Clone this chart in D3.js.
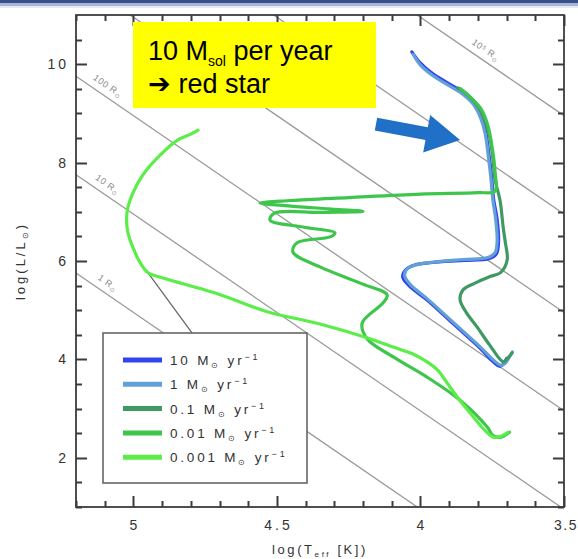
<!DOCTYPE html>
<html><head><meta charset="utf-8">
<script src="https://cdn.jsdelivr.net/npm/d3@7"></script>
<style>body{margin:0;background:#fff}svg{display:block}</style>
</head><body>
<svg id="chart" width="578" height="559"></svg>
<script>
// Accretion rates (Msun/yr) and their colours
const rates = ["10", "1", "0.1", "0.01", "0.001"];
const rateColors = ["#3344ee", "#62a0d8", "#3f9a62", "#3ec64c", "#5cee48"];

// Evolutionary tracks: [log Teff, log L/Lsun]
const track10 = [[3.70,4.02],[3.712,3.9],[3.725,3.86],[3.80,4.27],[3.90,4.8],[3.98,5.22],[4.04,5.5],[4.062,5.68],[4.05,5.83],[4.02,5.92],[3.96,5.97],[3.85,6.01],[3.76,6.05],[3.735,6.15],[3.728,6.4],[3.733,6.85],[3.745,7.25],[3.752,7.7],[3.76,8.1],[3.772,8.6],[3.785,8.9],[3.81,9.18],[3.85,9.42],[3.90,9.6],[3.96,9.82],[4.0,10.02],[4.03,10.25]];
const track1 = [[3.68,4.15],[3.69,4.05],[3.705,3.92],[3.72,3.88],[3.80,4.3],[3.90,4.83],[3.98,5.25],[4.035,5.52],[4.055,5.7],[4.045,5.85],[4.01,5.93],[3.95,5.98],[3.85,6.03],[3.765,6.07],[3.74,6.17],[3.733,6.4],[3.738,6.85],[3.748,7.25],[3.755,7.7],[3.763,8.1],[3.775,8.6],[3.79,8.9],[3.815,9.18],[3.855,9.4],[3.905,9.58],[3.96,9.78],[4.0,9.98],[4.025,10.2]];
const track01 = [[3.681,4.13],[3.70,4.0],[3.712,3.95],[3.76,4.3],[3.803,4.66],[3.84,4.95],[3.862,5.21],[3.852,5.41],[3.81,5.55],[3.76,5.68],[3.72,5.77],[3.698,6.02],[3.705,6.4],[3.712,6.69],[3.723,7.24],[3.74,7.65],[3.748,8.1],[3.758,8.5],[3.775,8.85],[3.80,9.15],[3.84,9.4],[3.87,9.52]];
const track001 = [[3.69,2.52],[3.72,2.42],[3.747,2.45],[3.768,2.63],[3.862,3.17],[3.977,3.64],[4.095,4.05],[4.186,4.42],[4.203,4.74],[4.13,5.15],[4.116,5.31],[4.21,5.55],[4.35,5.88],[4.444,6.18],[4.43,6.37],[4.315,6.49],[4.298,6.57],[4.409,6.69],[4.524,6.83],[4.51,6.97],[4.35,6.99],[4.20,7.01],[4.32,7.06],[4.46,7.12],[4.559,7.18],[4.45,7.23],[4.25,7.29],[4.0,7.36],[3.80,7.39],[3.74,7.42],[3.74,7.8],[3.75,8.3],[3.765,8.75],[3.79,9.1],[3.83,9.35],[3.86,9.5]];
const track0001 = [[3.695,2.52],[3.72,2.44],[3.747,2.42],[3.79,2.65],[3.827,2.91],[3.87,3.22],[3.907,3.52],[3.94,3.78],[3.977,3.95],[4.03,4.12],[4.095,4.25],[4.186,4.44],[4.35,4.72],[4.534,4.97],[4.70,5.32],[4.90,5.66],[4.949,5.76],[4.975,5.95],[5.0,6.25],[5.02,6.6],[5.022,7.0],[5.005,7.34],[4.967,7.75],[4.907,8.15],[4.845,8.46],[4.80,8.58],[4.775,8.66]];
const tracks = [track10, track1, track01, track001, track0001];

// Zero-age main sequence segment
const zams = [[4.949,5.76],[4.796,4.54],[4.70,3.73]];

// Constant-radius lines (Rsun) and their labels
const radii = [1, 10, 100, 1e3, 1e4, 1e5];
const radiusLabels = ["1", "10", "100", "10³", "10⁴", "10⁵"];

// Axis ticks
const xTicks = [5, 4.5, 4, 3.5];
const yTicks = [2, 4, 6, 8, 10];
const xMinor = [5.2, 5.1, 4.9, 4.8, 4.7, 4.6, 4.4, 4.3, 4.2, 4.1, 3.9, 3.8, 3.7, 3.6];
const yMinor = [1, 1.5, 2.5, 3, 3.5, 4.5, 5, 5.5, 6.5, 7, 7.5, 8.5, 9, 9.5, 10.5];

// Annotation arrow tail / head in data space
const arrowFrom = [4.155, 8.78];
const arrowTo = [3.862, 8.46];

const svg = d3.select("#chart");
const W = 578, H = 559;
const L = 76, R = 564, T = 15, B = 507;
const FONT = "'Liberation Sans', Arial, Helvetica, sans-serif";
const INK = "#3c3c3c";

const x = d3.scaleLinear().domain([5.2, 3.5]).range([L, R]);
const y = d3.scaleLinear().domain([1, 11]).range([B, T]);

// slide header strip
svg.append("rect").attr("x", 0).attr("y", 0).attr("width", W).attr("height", 3).attr("fill", "#34508e");
svg.append("rect").attr("x", 0).attr("y", 3).attr("width", W).attr("height", 3).attr("fill", "#a9b5d3");
svg.append("rect").attr("x", 0).attr("y", 6).attr("width", W).attr("height", 2).attr("fill", "#e6e9f1");

svg.append("defs").append("clipPath").attr("id", "plotclip")
  .append("rect").attr("x", L).attr("y", T).attr("width", R - L).attr("height", B - T);

const plot = svg.append("g").attr("clip-path", "url(#plotclip)");

// log L = 2 log R + 4 (log T - log Tsun)
const logTsun = Math.log10(5772);
const lumAt = (r, t) => 2 * Math.log10(r) + 4 * (t - logTsun);

plot.selectAll("line.rad").data(radii).join("line")
  .attr("class", "rad")
  .attr("x1", x(5.2)).attr("y1", r => y(lumAt(r, 5.2)))
  .attr("x2", x(3.5)).attr("y2", r => y(lumAt(r, 3.5)))
  .attr("stroke", "#9a9a9a").attr("stroke-width", 1.3);

// radius labels, sitting just above each line
const ang = Math.atan2(y(lumAt(1, 3.5)) - y(lumAt(1, 5.2)), x(3.5) - x(5.2));
radii.forEach((r, i) => {
  const tTop = 3.5 + (11 - lumAt(r, 3.5)) / 4;          // where line meets top frame
  const entryX = tTop >= 5.2 ? L : x(tTop);
  const lx = entryX + (tTop >= 5.2 ? 26 : 63);
  const tl = x.invert(lx);
  const ly = y(lumAt(r, tl));
  const ox = lx + 7 * Math.sin(ang), oy = ly - 7 * Math.cos(ang);
  const t = svg.append("text")
    .attr("transform", `translate(${ox},${oy}) rotate(${ang * 180 / Math.PI})`)
    .attr("text-anchor", "middle").attr("font-family", FONT).attr("font-size", 9)
    .attr("fill", "#8a8a8a").attr("letter-spacing", 0.6);
  t.append("tspan").text(radiusLabels[i] + " R");
  t.append("tspan").attr("font-size", 6).attr("dy", 2).text("⊙");
});

const line = d3.line().x(d => x(d[0])).y(d => y(d[1])).curve(d3.curveCatmullRom.alpha(0.5));

plot.append("path").datum(zams).attr("d", d3.line().x(d => x(d[0])).y(d => y(d[1])))
  .attr("fill", "none").attr("stroke", "#6a6a6a").attr("stroke-width", 1.3);

plot.selectAll("path.track").data(tracks).join("path")
  .attr("class", "track")
  .attr("d", line)
  .attr("fill", "none")
  .attr("stroke", (d, i) => rateColors[i])
  .attr("stroke-width", 3.2)
  .attr("stroke-linejoin", "round").attr("stroke-linecap", "round");

// frame
svg.append("rect").attr("x", L).attr("y", T).attr("width", R - L).attr("height", B - T)
  .attr("fill", "none").attr("stroke", INK).attr("stroke-width", 1.8);

// inward ticks on all four sides, drawn as one path
const xTickSet = xMinor.map(v => [v, 6]).concat(xTicks.map(v => [v, 11]));
const yTickSet = yMinor.map(v => [v, 6]).concat(yTicks.map(v => [v, 11]));
const tickPath = d3.path();
xTickSet.forEach(([v, len]) => {
  const px = Math.round(x(v)) + 0.5;
  tickPath.moveTo(px, B); tickPath.lineTo(px, B - len);
  tickPath.moveTo(px, T); tickPath.lineTo(px, T + len);
});
yTickSet.forEach(([v, len]) => {
  const py = Math.round(y(v)) + 0.5;
  tickPath.moveTo(L, py); tickPath.lineTo(L + len, py);
  tickPath.moveTo(R, py); tickPath.lineTo(R - len, py);
});
svg.append("path").attr("d", tickPath.toString())
  .attr("fill", "none").attr("stroke", INK).attr("stroke-width", 2);

// tick labels
svg.selectAll("text.xlab").data(xTicks).join("text").attr("class", "xlab")
  .attr("x", (d, i) => i === xTicks.length - 1 ? 578 : x(d) + 1.5).attr("y", 530)
  .attr("text-anchor", (d, i) => i === xTicks.length - 1 ? "end" : "middle")
  .attr("font-family", FONT).attr("font-size", 14).attr("fill", "#333")
  .attr("letter-spacing", (d, i) => i === xTicks.length - 1 ? 1.5 : 3)
  .text(d => d3.format("")(d));
svg.selectAll("text.ylab").data(yTicks).join("text").attr("class", "ylab")
  .attr("x", 69).attr("y", d => y(d) + 5).attr("text-anchor", "end")
  .attr("font-family", FONT).attr("font-size", 14).attr("fill", "#333").attr("letter-spacing", 3)
  .text(d => d3.format("")(d));

// axis titles
const xt = svg.append("text").attr("x", (L + R) / 2).attr("y", 554).attr("text-anchor", "middle")
  .attr("font-family", FONT).attr("font-size", 13).attr("fill", "#333").attr("letter-spacing", 2.6);
xt.append("tspan").text("log(T");
xt.append("tspan").attr("font-size", 8).attr("dy", 3).text("eff");
xt.append("tspan").attr("dy", -3).text(" [K])");

const yt = svg.append("text").attr("transform", `translate(25,${(T + B) / 2}) rotate(-90)`)
  .attr("text-anchor", "middle").attr("font-family", FONT).attr("font-size", 13)
  .attr("fill", "#333").attr("letter-spacing", 3);
yt.append("tspan").text("log(L/L");
yt.append("tspan").attr("font-size", 8).attr("dy", 3).text("⊙");
yt.append("tspan").attr("dy", -3).text(")");

// legend
const lg = svg.append("g");
lg.append("rect").attr("x", 103).attr("y", 333).attr("width", 204).attr("height", 150)
  .attr("fill", "#fff").attr("stroke", "#666").attr("stroke-width", 1.6);
rates.forEach((r, i) => {
  const yy = 360 + i * 24.3;
  lg.append("line").attr("x1", 123).attr("x2", 162).attr("y1", yy).attr("y2", yy)
    .attr("stroke", rateColors[i]).attr("stroke-width", 5);
  const t = lg.append("text").attr("x", 170).attr("y", yy + 5)
    .attr("font-family", FONT).attr("font-size", 13.5).attr("fill", "#333").attr("letter-spacing", 2.8);
  t.append("tspan").text(r + " M");
  t.append("tspan").attr("font-size", 8).attr("dy", 3).text("⊙");
  t.append("tspan").attr("dy", -3).text(" yr");
  t.append("tspan").attr("font-size", 9).attr("dy", -5).text("−1");
});

// annotation box
svg.append("rect").attr("x", 133).attr("y", 22).attr("width", 243).attr("height", 86).attr("fill", "#ffff00");
const a1 = svg.append("text").attr("x", 148).attr("y", 60).attr("font-family", FONT)
  .attr("font-size", 27).attr("fill", "#000");
a1.append("tspan").text("10 M");
a1.append("tspan").attr("font-size", 14).attr("dy", 6).text("sol");
a1.append("tspan").attr("dy", -6).text(" per year");
svg.append("text").attr("x", 148).attr("y", 93).attr("font-family", FONT)
  .attr("font-size", 27).attr("fill", "#000").text("➔ red star");

// annotation arrow
const p0 = [x(arrowFrom[0]), y(arrowFrom[1])], p1 = [x(arrowTo[0]), y(arrowTo[1])];
const dx = p1[0] - p0[0], dy = p1[1] - p0[1], len = Math.hypot(dx, dy);
const ux = dx / len, uy = dy / len, nx = -uy, ny = ux;
const sw = 6.5, hw = 19, hl = 34;
const bx = p1[0] - ux * hl, by = p1[1] - uy * hl;
const pts = [
  [p0[0] + nx * sw, p0[1] + ny * sw], [bx + nx * sw, by + ny * sw], [bx + nx * hw, by + ny * hw],
  p1, [bx - nx * hw, by - ny * hw], [bx - nx * sw, by - ny * sw], [p0[0] - nx * sw, p0[1] - ny * sw]
];
svg.append("polygon").attr("points", pts.map(p => p.join(",")).join(" ")).attr("fill", "#2170c8");
</script>
</body></html>
